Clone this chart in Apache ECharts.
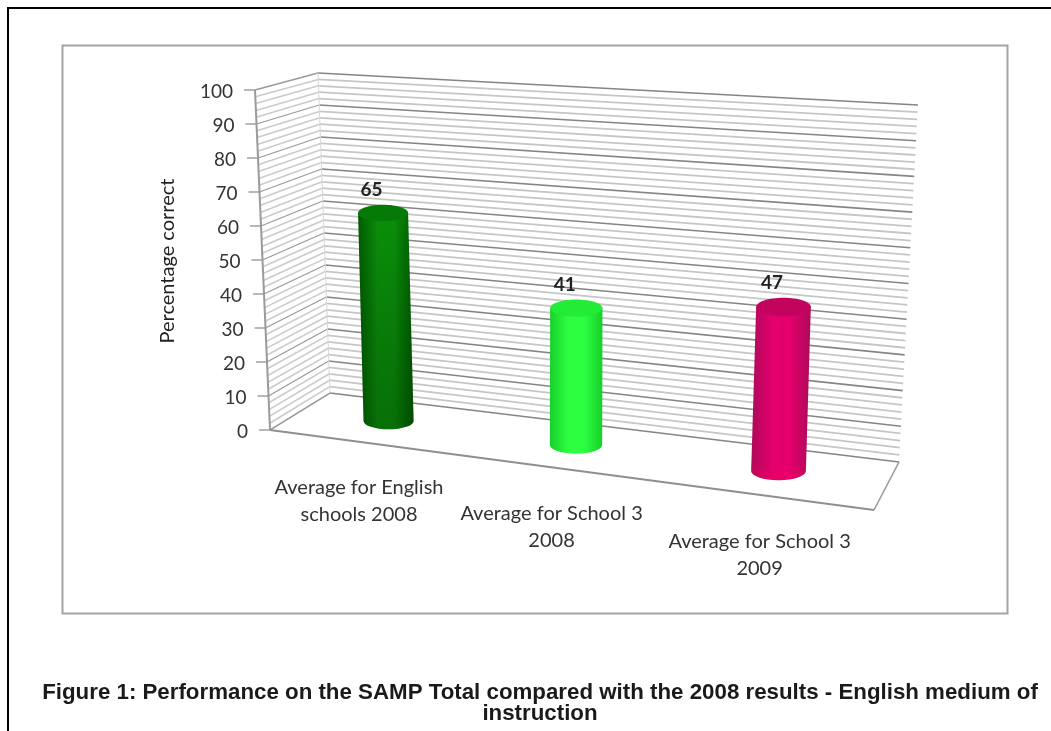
<!DOCTYPE html>
<html>
<head>
<meta charset="utf-8">
<style>
  html, body { margin: 0; padding: 0; background: #fff; }
  #chart { width: 1051px; height: 731px; }
</style>
<script src="https://cdn.jsdelivr.net/npm/echarts@6/dist/echarts.min.js"></script>
</head>
<body>
<div id="chart"></div>
<script>
// Chart content
const categories = ['Average for English\nschools 2008', 'Average for School 3\n2008', 'Average for School 3\n2009'];
const percentCorrect = [65, 41, 47];
const tickLabels = [0, 10, 20, 30, 40, 50, 60, 70, 80, 90, 100];
const minorGridValues = [2, 4, 6, 8, 12, 14, 16, 18, 22, 24, 26, 28, 32, 34, 36, 38, 42, 44, 46, 48,
  52, 54, 56, 58, 62, 64, 66, 68, 72, 74, 76, 78, 82, 84, 86, 88, 92, 94, 96, 98];
const yAxisTitle = 'Percentage correct';
const caption = 'Figure 1: Performance on the SAMP Total compared with the 2008 results - English medium of\ninstruction';

// Box planes of the pseudo-3D scene, as [bottom-left, bottom-right, top-left, top-right]
const backWall = [[330, 393], [899, 462], [318, 73], [918, 105]];
const barPlane = [[300, 409.7], [886, 484.7], [287.2, 96.2], [901.8, 127.7]];
const frontLeftEdge = [[270, 430], [255, 90]];
const floorFrontRight = [874, 510];

// Cylinder shading: [edge, centre, cap, lower-body darkening, base band]
const tones = [
  ['#005c00', '#0a8f0a', '#067a06', 'rgba(0,30,0,0.28)', 'rgba(0,0,0,0)'],
  ['#18cf2b', '#2dff40', '#22ec35', 'rgba(0,0,0,0)', 'rgba(0,0,0,0)'],
  ['#ad0a5a', '#e3006c', '#c2045f', 'rgba(0,0,0,0)', 'rgba(255,0,90,0.18)']
];

const FONT_UI = 'Lato, "Open Sans", sans-serif';
const lerp = (a, b, t) => a + (b - a) * t;
const bilinear = (q, u, v) => {
  const bx = lerp(q[0][0], q[1][0], u), by = lerp(q[0][1], q[1][1], u);
  const tx = lerp(q[2][0], q[3][0], u), ty = lerp(q[2][1], q[3][1], u);
  return [lerp(bx, tx, v), lerp(by, ty, v)];
};
// Foreshortening: categories further right sit on the nearer end of the floor
const foreshorten = (u) => u / (1.123 - 0.123 * u);

const normY = (params, py) => {
  const c = params.coordSys;
  return (c.y + c.height - py) / c.height;
};
const normX = (params, px) => {
  const c = params.coordSys;
  return (px - c.x) / c.width;
};
const segment = (a, b, stroke, width) => ({
  type: 'line',
  shape: { x1: a[0], y1: a[1], x2: b[0], y2: b[1] },
  style: { stroke, lineWidth: width, fill: null }
});
const leftEdgeAt = (v) => [lerp(frontLeftEdge[0][0], frontLeftEdge[1][0], v), lerp(frontLeftEdge[0][1], frontLeftEdge[1][1], v)];

function renderWallLine(major) {
  return function (params, api) {
    const v = normY(params, api.coord([0, api.value(1)])[1]);
    const corner = bilinear(backWall, 0, v);
    const right = bilinear(backWall, 1, v);
    const stroke = major ? '#858585' : '#c6c6c6';
    const sideStroke = major ? '#9a9a9a' : '#cbcbcb';
    return {
      type: 'group',
      children: [
        segment(leftEdgeAt(v), corner, sideStroke, major ? 1.3 : 1.6),
        segment(corner, right, stroke, major ? 1.6 : 1.8)
      ]
    };
  };
}

function renderFrameLines(params, api) {
  const c0 = backWall[0], c1 = backWall[1], c2 = backWall[2];
  const edge = '#9a9a9a';
  return {
    type: 'group',
    children: [
      segment(frontLeftEdge[0], frontLeftEdge[1], edge, 2),
      segment(c0, c2, '#d8d8d8', 1),
      segment(frontLeftEdge[0], c0, edge, 1.4),
      segment(frontLeftEdge[0], floorFrontRight, '#8f8f8f', 2),
      segment(floorFrontRight, c1, edge, 1.6)
    ]
  };
}

function renderTick(params, api) {
  const value = api.value(1);
  const v = normY(params, api.coord([0, value])[1]);
  const p = leftEdgeAt(v);
  return {
    type: 'group',
    children: [
      segment([p[0] - 11, p[1]], p, '#9a9a9a', 1.4),
      {
        type: 'text',
        style: {
          text: String(value), x: p[0] - 22, y: p[1] + 2,
          textAlign: 'right', textVerticalAlign: 'middle',
          font: '19px ' + FONT_UI, fill: '#333333'
        }
      }
    ]
  };
}

function renderCylinder(params, api) {
  const i = api.value(0);
  const value = api.value(1);
  const u = foreshorten(normX(params, api.coord([i, 0])[0]));
  const base = bilinear(barPlane, u, normY(params, api.coord([i, 0])[1]));
  const top = bilinear(barPlane, u, normY(params, api.coord([i, value])[1]));
  const rx = lerp(24.5, 28, u);
  const ry = lerp(8, 9.5, u);
  const t = tones[i];
  const G = echarts.graphic.LinearGradient;
  const bodyPath = 'M' + (top[0] - rx) + ' ' + top[1] +
    ' L' + (base[0] - rx) + ' ' + base[1] +
    ' A' + rx + ' ' + ry + ' 0 0 0 ' + (base[0] + rx) + ' ' + base[1] +
    ' L' + (top[0] + rx) + ' ' + top[1] + ' Z';
  const band = ry * 1.1;
  const bandPath = 'M' + (base[0] - rx) + ' ' + (base[1] - band) +
    ' A' + rx + ' ' + ry + ' 0 0 0 ' + (base[0] + rx) + ' ' + (base[1] - band) +
    ' L' + (base[0] + rx) + ' ' + base[1] +
    ' A' + rx + ' ' + ry + ' 0 0 1 ' + (base[0] - rx) + ' ' + base[1] + ' Z';
  return {
    type: 'group',
    children: [
      {
        type: 'path', shape: { pathData: bodyPath },
        style: {
          fill: new G(0, 0, 1, 0, [
            { offset: 0, color: t[0] }, { offset: 0.35, color: t[1] },
            { offset: 0.65, color: t[1] }, { offset: 1, color: t[0] }
          ])
        }
      },
      {
        type: 'path', shape: { pathData: bodyPath },
        style: {
          fill: new G(0, 0, 0, 1, [
            { offset: 0, color: 'rgba(0,0,0,0)' }, { offset: 1, color: t[3] }
          ])
        }
      },
      { type: 'path', shape: { pathData: bandPath }, style: { fill: t[4] } },
      {
        type: 'ellipse',
        shape: { cx: top[0], cy: top[1], rx: rx, ry: ry },
        style: { fill: t[2] }
      },
      {
        type: 'text',
        style: {
          text: String(value), x: top[0] - 11.5, y: top[1] - ry - 15,
          textAlign: 'center', textVerticalAlign: 'middle',
          font: 'bold 19px ' + FONT_UI, fill: '#222222'
        }
      },
      {
        type: 'text',
        style: {
          text: categories[i],
          x: base[0] - 32 + 16 * u, y: base[1] + 79 + 6 * u,
          textAlign: 'center', textVerticalAlign: 'middle',
          font: '20px ' + FONT_UI, lineHeight: 27, fill: '#333333'
        }
      }
    ]
  };
}

const chart = echarts.init(document.getElementById('chart'), null, { renderer: 'canvas' });
const wallData = (vals) => vals.map((v) => [0, v]);

chart.setOption({
  animation: false,
  backgroundColor: '#ffffff',
  title: {
    text: caption, left: 535, top: 677, textAlign: 'center',
    textStyle: {
      fontFamily: '"Liberation Sans", Arial, sans-serif', fontWeight: 'bold',
      fontSize: 22.3, lineHeight: 21, color: '#1a1a1a'
    }
  },
  grid: { left: 300, right: 165, top: 100, bottom: 246 },
  xAxis: { type: 'category', data: categories, show: false },
  yAxis: { type: 'value', min: 0, max: 100, interval: 10, show: false },
  graphic: [
    { type: 'polyline', z: -1, shape: { points: [[8, 731], [8, 8], [1051, 8]] },
      style: { stroke: '#000', lineWidth: 2, fill: null } },
    { type: 'rect', z: -1, shape: { x: 62.5, y: 45.5, width: 945, height: 568 },
      style: { stroke: '#a4a4a4', lineWidth: 2, fill: '#fff' } },
    { type: 'text', z: 10, x: 168, y: 261, rotation: Math.PI / 2,
      style: { text: yAxisTitle, font: '20px ' + FONT_UI, fill: '#1f1f1f',
        textAlign: 'center', textVerticalAlign: 'middle' } }
  ],
  series: [
    { type: 'custom', name: 'minor', coordinateSystem: 'cartesian2d', z: 1, silent: true,
      renderItem: renderWallLine(false), data: wallData(minorGridValues) },
    { type: 'custom', name: 'major', coordinateSystem: 'cartesian2d', z: 2, silent: true,
      renderItem: renderWallLine(true), data: wallData(tickLabels) },
    { type: 'custom', name: 'box', coordinateSystem: 'cartesian2d', z: 3, silent: true,
      renderItem: renderFrameLines, data: [[0, 0]] },
    { type: 'custom', name: 'ticks', coordinateSystem: 'cartesian2d', z: 4, silent: true,
      renderItem: renderTick, data: wallData(tickLabels) },
    { type: 'custom', name: 'Percentage correct', coordinateSystem: 'cartesian2d', z: 5,
      renderItem: renderCylinder,
      data: percentCorrect.map((v, i) => [i, v]) }
  ]
});
</script>
</body>
</html>
